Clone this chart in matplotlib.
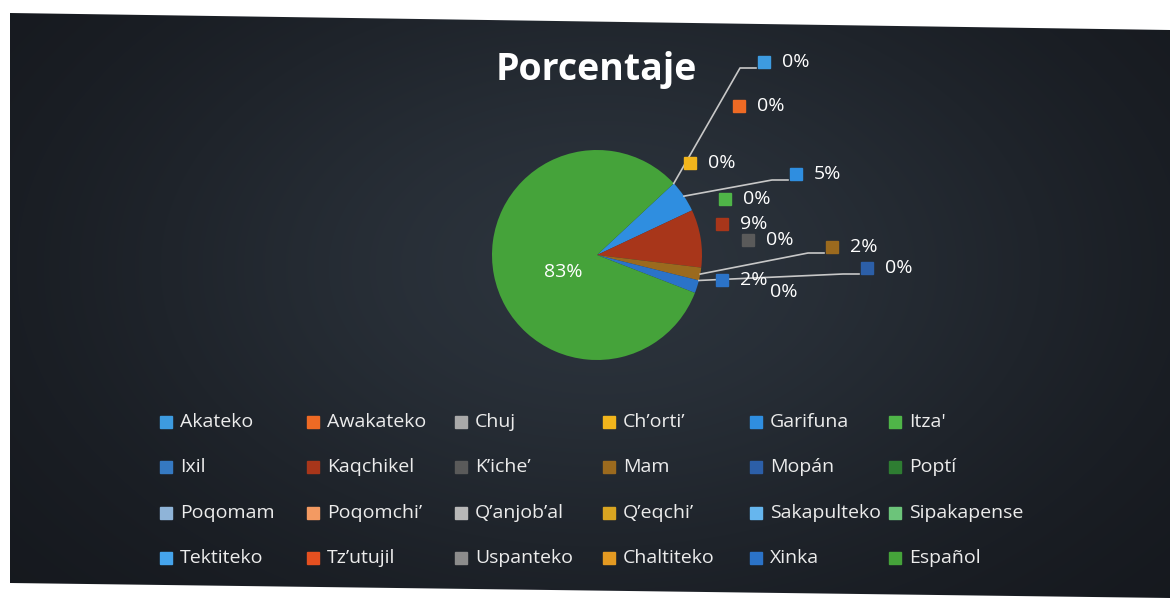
import numpy as np
import matplotlib
matplotlib.use("Agg")
import matplotlib.pyplot as plt
from matplotlib.patches import Rectangle, Polygon

# datos del grafico (porcentaje por idioma)
idiomas = ["Akateko", "Awakateko", "Chuj", "Ch\u2019orti\u2019", "Garifuna", "Itza'",
           "Ixil", "Kaqchikel", "K\u2019iche\u2019", "Mam", "Mop\u00e1n", "Popt\u00ed",
           "Poqomam", "Poqomchi\u2019", "Q\u2019anjob\u2019al", "Q\u2019eqchi\u2019", "Sakapulteko", "Sipakapense",
           "Tektiteko", "Tz\u2019utujil", "Uspanteko", "Chaltiteko", "Xinka", "Espa\u00f1ol"]
porcentaje = [0, 0, 0, 0, 5, 0,
              0, 9, 0, 2, 0, 0,
              0, 0, 0, 0, 0, 0,
              0, 0, 0, 0, 2, 83]
colores = ["#3d9be0", "#ee6a24", "#a9a9a9", "#f2b51c", "#2f8ee0", "#4fb548",
           "#3579c2", "#a8361a", "#5a5a5a", "#9b6a1e", "#2c5fa8", "#2e7d32",
           "#8fb4d8", "#f39a62", "#b8b8b8", "#d9a521", "#66b6ee", "#6cc47a",
           "#45a4ec", "#e55020", "#8c8c8c", "#e49a22", "#2b73c8", "#45a33a"]

W, H = 1170, 598
fig = plt.figure(figsize=(W / 100, H / 100), dpi=100, facecolor="white")
ax = fig.add_axes([0, 0, 1, 1])

# fondo oscuro con degradado (foto de la diapositiva)
yy, xx = np.mgrid[0:H, 0:W]
d = np.exp(-(((xx - 600) / 520.0) ** 2 + ((yy - 330) / 330.0) ** 2))
base = np.array([0.075, 0.085, 0.105])
centro = np.array([0.17, 0.20, 0.235])
img = base + (centro - base) * d[..., None]
bg = ax.imshow(img, extent=(0, W, 0, H), origin="lower", zorder=0)
fondo = Polygon([(10, H - 13), (W, H - 30), (W, 0), (10, H - 583)], closed=True,
                facecolor="none", edgecolor="none")
ax.add_patch(fondo)
bg.set_clip_path(fondo)

# pastel
cx, cy, r = 597, H - 255, 105
wedges, _ = ax.pie(porcentaje, colors=colores, center=(cx, cy), radius=r,
                   startangle=43, counterclock=False,
                   wedgeprops=dict(linewidth=0), frame=True)
ax.set_xlim(0, W)
ax.set_ylim(0, H)
ax.set_aspect("equal")
ax.axis("off")

ax.text(596, H - 70, "Porcentaje", color="white", fontsize=27, fontweight="bold",
        family="Open Sans", ha="center", va="center")

# etiquetas de datos (posicion de cada etiqueta en pixeles)
etiquetas = {
    0: (782, 62), 1: (757, 106), 3: (708, 163), 4: (814, 174), 5: (743, 199),
    7: (740, 224), 8: (766, 240), 9: (850, 247), 10: (885, 268),
    21: (770, 292), 22: (740, 280),
}
for i, (tx, ty) in etiquetas.items():
    w = wedges[i]
    ang = np.deg2rad((w.theta1 + w.theta2) / 2)
    ex, ey = cx + r * np.cos(ang), cy + r * np.sin(ang)
    ty = H - ty
    if i in (0, 4, 9, 10):
        codo = tx - 42
        ax.plot([ex, codo, tx - 26], [ey, ty - 6, ty - 6], color="#c8c8c8", lw=1.2, zorder=3)
    if i != 21:
        ax.add_patch(Rectangle((tx - 24, ty - 6), 12, 12, color=colores[i], zorder=4))
    ax.text(tx, ty, f"{porcentaje[i]}%", color="white", fontsize=14,
            family="Open Sans", ha="left", va="center", zorder=5)

ax.text(563, H - 272, f"{porcentaje[23]}%", color="white", fontsize=14,
        family="Open Sans", ha="center", va="center", zorder=5)

# leyenda en cuadricula 4 x 6
col_x = [166, 313, 461, 609, 756, 895]
fila_y = [422, 467, 513, 558]
for k, nombre in enumerate(idiomas):
    fx, fy = col_x[k % 6], H - fila_y[k // 6]
    ax.add_patch(Rectangle((fx - 6, fy - 6), 12, 12, color=colores[k], zorder=4))
    ax.text(fx + 14, fy, nombre, color="#ececec", fontsize=14, family="Open Sans",
            ha="left", va="center", zorder=5)

fig.savefig("out.png", dpi=100, facecolor=fig.get_facecolor())
